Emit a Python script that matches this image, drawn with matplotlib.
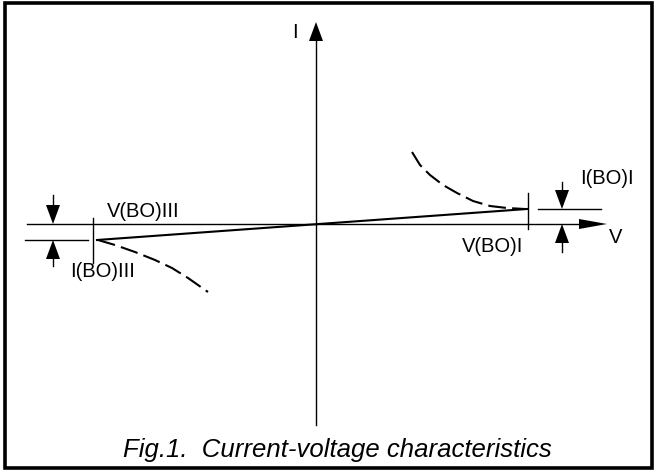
import matplotlib.pyplot as plt
from matplotlib.patches import Rectangle

plt.rcParams['font.family'] = ['Liberation Sans', 'DejaVu Sans']

# schematic units: origin at the crossing of the axes, V to the right, I up
v_bo1, i_bo1 = 211, 15
v_bo3, i_bo3 = -223, -16

iv_v = [-219, 211]
iv_i = [-16, 15]

neg_v = [96, 104, 114, 127, 141, 157, 174, 191, 209]
neg_i = [72, 59, 49, 39, 31, 23, 18, 16, 15]

neg3_v = [-218, -201, -181, -161, -144, -128, -108]
neg3_i = [-16, -21, -28, -36, -44, -54, -68]

caption = 'Fig.1.  Current-voltage characteristics'


def arrow(ax, x, y0, y1, w=7, hl=19):
    """line from y0 to y1 with a filled head touching y1"""
    d = 1 if y1 > y0 else -1
    ax.plot([x, x], [y0, y1 - d * hl], color='black', lw=1)
    ax.fill([x - w, x + w, x], [y1 - d * hl, y1 - d * hl, y1], color='black', lw=0)


fig = plt.figure(figsize=(6.56, 4.71), dpi=100)
ax = fig.add_axes([0, 0, 1, 1])
ax.set_xlim(-316, 340)
ax.set_ylim(-247, 224)
ax.axis('off')

ax.add_patch(Rectangle((-311, -244), 647, 465, fill=False, lw=2.6, color='black'))

# axes
ax.plot([-289, 263], [0, 0], color='black', lw=1)
ax.fill([263, 263, 291], [5, -5, 0], color='black', lw=0)
ax.plot([0, 0], [-201, 183], color='black', lw=1)
ax.fill([-7, 7, 0], [183, 183, 202], color='black', lw=0)
lab = dict(fontsize=14.5, ha='center', va='baseline')
ax.text(-21, 186, 'I', **lab)
ax.text(300, -19, 'V', **lab)

# characteristic
ax.plot(iv_v, iv_i, color='black', lw=1.5)
ax.plot(neg_v, neg_i, color='black', lw=1.5, dashes=(8.5, 3))
ax.plot(neg3_v, neg3_i, color='black', lw=1.5, dashes=(8.5, 3))

# breakover markers, quadrant I
ax.plot([v_bo1 + 1, v_bo1 + 1], [-5, 31], color='black', lw=1)
ax.plot([v_bo1 + 11, v_bo1 + 74], [i_bo1, i_bo1], color='black', lw=1)
arrow(ax, 246, 42, i_bo1)
arrow(ax, 246, -28, 0)
ax.text(291, 40, 'I(BO)I', **lab)
ax.text(177, -28, 'V(BO)I', **lab)

# breakover markers, quadrant III
ax.plot([v_bo3, v_bo3], [6, -39], color='black', lw=1)
ax.plot([-291, -228], [i_bo3, i_bo3], color='black', lw=1)
arrow(ax, -263, 29, 0)
arrow(ax, -263, -42, i_bo3)
ax.text(-173, 7, 'V(BO)III', **lab)
ax.text(-213, -53, 'I(BO)III', **lab)

ax.text(21, -233, caption, fontsize=18.5, style='italic', ha='center', va='baseline')

fig.savefig('out.png', dpi=100)
